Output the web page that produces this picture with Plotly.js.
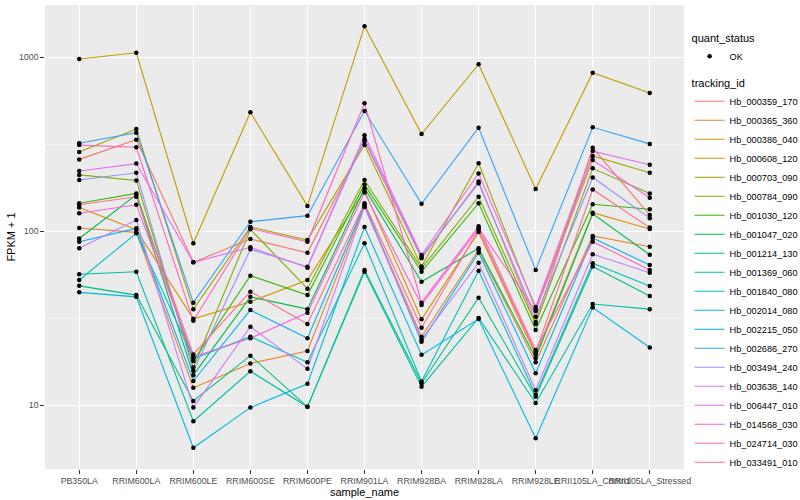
<!DOCTYPE html>
<html><head><meta charset="utf-8">
<script src="https://cdn.plot.ly/plotly-3.0.1.min.js"></script>
<style>html,body{margin:0;padding:0;background:#fff}#chart{width:800px;height:500px}</style>
</head><body><div id="chart"></div>
<script>
const samples = ["PB350LA","RRIM600LA","RRIM600LE","RRIM600SE","RRIM600PE","RRIM901LA","RRIM928BA","RRIM928LA","RRIM928LE","RRII105LA_Control","RRII105LA_Stressed"];

const trackingIds = ["Hb_000359_170","Hb_000365_360","Hb_000386_040","Hb_000608_120","Hb_000703_090","Hb_000784_090","Hb_001030_120","Hb_001047_020","Hb_001214_130","Hb_001369_060","Hb_001840_080","Hb_002014_080","Hb_002215_050","Hb_002686_270","Hb_003494_240","Hb_003638_140","Hb_006447_010","Hb_014568_030","Hb_024714_030","Hb_033491_010"];

const lineColors = ["#F8766D","#EA8331","#D89000","#C09B00","#A3A500","#7CAE00","#39B600","#00BB4E","#00BF7D","#00C1A3","#00BFC4","#00BAE0","#00B0F6","#35A2FF","#9590FF","#C77CFF","#E76BF3","#FA62DB","#FF62BC","#FF6C91"];

// FPKM + 1 per sample, one array per tracking_id
const Hb_000359_170 = [259, 336, 66.4, 90.3, 75.3, 330, 70, 193, 30.1, 302, 124];
const Hb_000365_360 = [104.5, 98.6, 12.6, 17.4, 20.5, 140, 24.8, 78.1, 17.7, 94, 81.5];
const Hb_000386_040 = [137, 102, 31.4, 39.4, 52.5, 171, 31.2, 99, 19.5, 128, 103];
const Hb_000608_120 = [977, 1062, 85.4, 483, 140, 1507, 362, 912, 175, 815, 624];
const Hb_000703_090 = [286, 387, 35.6, 106, 89, 313, 62.7, 246, 35.7, 271, 217];
const Hb_000784_090 = [211, 196, 16.5, 102.6, 46.8, 197, 61.3, 158, 29.3, 230, 165];
const Hb_001030_120 = [145, 165, 18.0, 55.6, 43, 186, 58.6, 145, 27.1, 143, 134];
const Hb_001047_020 = [91, 162, 14.9, 42, 35.7, 177, 51.3, 79.8, 18.7, 126, 73.4];
const Hb_001214_130 = [48.6, 43, 10.6, 19.3, 9.8, 60, 13.4, 41.5, 11.2, 62.7, 42.5];
const Hb_001369_060 = [56.6, 58.6, 8.1, 15.7, 9.8, 58.6, 12.8, 31.8, 10.3, 38.2, 35.7];
const Hb_001840_080 = [52.5, 97.4, 18.5, 24.8, 17.7, 85.3, 13.7, 59.4, 11.5, 65.5, 48.5];
const Hb_002014_080 = [44.6, 42, 5.7, 9.7, 13.3, 106, 19.5, 31.3, 6.46, 36.5, 21.5];
const Hb_002215_050 = [87, 104, 13.8, 35.3, 24.3, 142, 23.2, 75.4, 15.3, 91.6, 64];
const Hb_002686_270 = [321, 369, 38.9, 113.5, 123, 491, 144, 394, 60, 396, 318];
const Hb_003494_240 = [197, 217, 15.8, 78.8, 62.6, 339, 71.4, 189, 32.3, 204, 119];
const Hb_003638_140 = [79.8, 116, 9.7, 28.3, 16.2, 138, 23.9, 66, 12.2, 73.8, 57.8];
const Hb_006447_010 = [222, 245, 66.4, 80.9, 61.8, 357, 73, 215, 36.7, 289, 241];
const Hb_014568_030 = [127, 142, 19.0, 24.3, 34, 167, 37.7, 104, 34.8, 257, 156];
const Hb_024714_030 = [313, 304, 30.6, 104, 87, 545, 38.9, 107, 20.8, 87.2, 60];
const Hb_033491_010 = [142, 158, 19.6, 45, 29.3, 145, 27.9, 102, 20.2, 174, 105];

const seriesValues = [Hb_000359_170, Hb_000365_360, Hb_000386_040, Hb_000608_120, Hb_000703_090, Hb_000784_090, Hb_001030_120, Hb_001047_020, Hb_001214_130, Hb_001369_060, Hb_001840_080, Hb_002014_080, Hb_002215_050, Hb_002686_270, Hb_003494_240, Hb_003638_140, Hb_006447_010, Hb_014568_030, Hb_024714_030, Hb_033491_010];

const yTickVals = [10, 100, 1000];
const yTickText = ["10", "100", "1000"];
const yMinorVals = [3.1623, 31.623, 316.23];

const FONT = "Liberation Sans, Arial, Helvetica, sans-serif";

const traces = [];
seriesValues.forEach((vals, i) => {
  traces.push({
    type: "scatter", mode: "lines",
    x: samples, y: vals,
    name: trackingIds[i],
    line: {color: lineColors[i], width: 1.1},
    legend: "legend2",
    hoverinfo: "skip"
  });
});
const allX = [], allY = [];
seriesValues.forEach(vals => { vals.forEach((v, j) => { allX.push(samples[j]); allY.push(v); }); });
traces.push({
  type: "scatter", mode: "markers",
  x: allX, y: allY, name: "OK",
  marker: {color: "#000000", size: 4.5},
  legend: "legend",
  hoverinfo: "skip"
});

const layout = {
  width: 800, height: 500,
  paper_bgcolor: "#FFFFFF",
  plot_bgcolor: "#EBEBEB",
  margin: {l: 45, r: 116, t: 5, b: 31},
  font: {family: FONT, color: "#000000"},
  xaxis: {
    type: "category",
    range: [-0.6, 10.6],
    showgrid: true, gridcolor: "#FFFFFF", gridwidth: 1.1,
    zeroline: false, showline: false,
    ticks: "outside", ticklen: 3.7, tickwidth: 1, tickcolor: "#333333",
    tickangle: 0,
    tickfont: {family: FONT, size: 8.8, color: "#4D4D4D"},
    title: {text: "sample_name", font: {family: FONT, size: 11, color: "#000000"}, standoff: 2}
  },
  yaxis: {
    type: "log",
    range: [0.634, 3.3006],
    tickvals: yTickVals, ticktext: yTickText,
    showgrid: true, gridcolor: "#FFFFFF", gridwidth: 1.1,
    minor: {tickvals: yMinorVals, showgrid: true, gridcolor: "#FFFFFF", gridwidth: 0.55, ticks: ""},
    zeroline: false, showline: false,
    ticks: "outside", ticklen: 3.7, tickwidth: 1, tickcolor: "#333333",
    tickfont: {family: FONT, size: 8.8, color: "#4D4D4D"},
    title: {text: "FPKM + 1", font: {family: FONT, size: 11, color: "#000000"}, standoff: 1}
  },
  showlegend: true,
  legend: {
    xref: "container", yref: "container",
    x: 0.862, y: 0.945, xanchor: "left", yanchor: "top",
    bgcolor: "rgba(0,0,0,0)",
    title: {text: "quant_status", font: {family: FONT, size: 11, color: "#000000"}},
    font: {family: FONT, size: 9.2, color: "#000000"},
    itemwidth: 30,
    maxheight: 480
  },
  legend2: {
    xref: "container", yref: "container",
    x: 0.862, y: 0.855, xanchor: "left", yanchor: "top",
    bgcolor: "rgba(0,0,0,0)",
    title: {text: "tracking_id", font: {family: FONT, size: 11, color: "#000000"}},
    font: {family: FONT, size: 9.2, color: "#000000"},
    itemwidth: 30,
    tracegroupgap: 0,
    maxheight: 480
  }
};

Plotly.newPlot("chart", traces, layout, {staticPlot: true, displayModeBar: false});
</script>
</body></html>
